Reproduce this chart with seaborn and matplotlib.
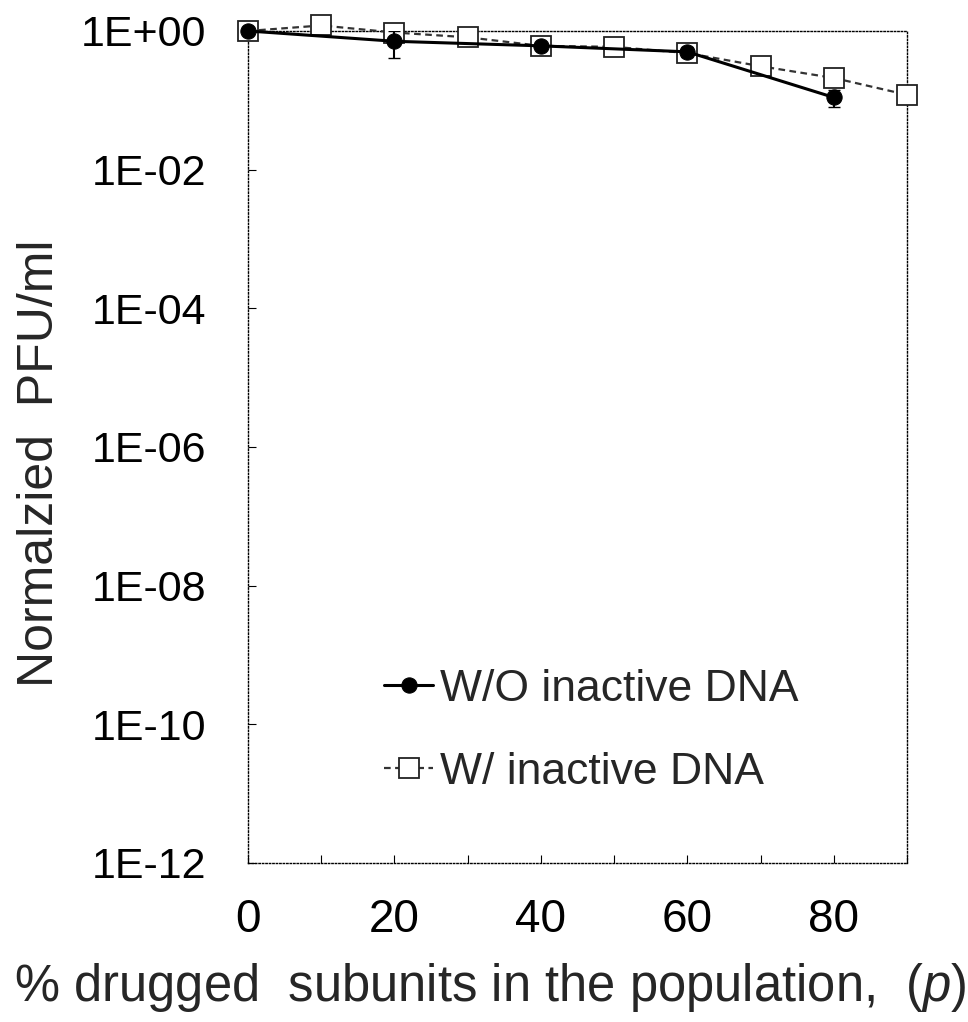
import numpy as np
import pandas as pd
import matplotlib
matplotlib.use("Agg")
import matplotlib.pyplot as plt
import seaborn as sns

# ---- data ----
x_wo = [0, 20, 40, 60, 80]
y_wo = [1.0, 0.71, 0.61, 0.50, 0.11]
err_wo = [0.05, 0.30, 0.05, 0.08, 0.03]

x_w = [0, 10, 20, 30, 40, 50, 60, 70, 80, 90]
y_w = [1.0, 1.2, 0.95, 0.81, 0.61, 0.59, 0.48, 0.31, 0.21, 0.12]
err_w = [0.03, 0.04, 0.08, 0.08, 0.05, 0.10, 0.05, 0.07, 0.04, 0.02]

series_labels = ["W/O inactive DNA", "W/ inactive DNA"]
y_ticks = [1e0, 1e-2, 1e-4, 1e-6, 1e-8, 1e-10, 1e-12]
y_tick_labels = ["1E+00", "1E-02", "1E-04", "1E-06", "1E-08", "1E-10", "1E-12"]
x_major = [0, 20, 40, 60, 80]
x_minor = [10, 30, 50, 70, 90]
x_label = r"% drugged  subunits in the population,  $\mathit{(p)}$"
y_label = "Normalzied  PFU/ml"

df_wo = pd.DataFrame({"x": x_wo, "y": y_wo})
df_w = pd.DataFrame({"x": x_w, "y": y_w})

sns.set_theme(style="white")
plt.rcParams["font.family"] = ["Liberation Sans", "DejaVu Sans"]
plt.rcParams["mathtext.fontset"] = "custom"
plt.rcParams["mathtext.it"] = "Liberation Sans:italic"
plt.rcParams["mathtext.rm"] = "Liberation Sans"
plt.rcParams["ytick.major.pad"] = 30
plt.rcParams["xtick.major.pad"] = 25
plt.rcParams["xtick.minor.pad"] = 25

fig = plt.figure(figsize=(9.68, 10.22), dpi=100)
ax = fig.add_axes([0.2562, 0.1556, 0.937 - 0.2562, 0.9697 - 0.1556])

# W/ inactive DNA (dashed, open squares)
ax.errorbar(x_w, y_w, yerr=err_w, fmt="none", ecolor="#222222", elinewidth=1.2,
            capsize=3, zorder=2)
sns.lineplot(data=df_w, x="x", y="y", ax=ax, color="#333333", linewidth=1.6,
             linestyle=(0, (3, 2)), marker="s", markersize=15,
             markerfacecolor="white", markeredgecolor="#222222",
             markeredgewidth=1.3, label=series_labels[1], zorder=3,
             errorbar=None, clip_on=False)

# W/O inactive DNA (solid, filled circles)
ax.errorbar(x_wo, y_wo, yerr=err_wo, fmt="none", ecolor="black", elinewidth=1.5,
            capsize=4, zorder=4)
sns.lineplot(data=df_wo, x="x", y="y", ax=ax, color="black", linewidth=2.2,
             marker="o", markersize=11, markerfacecolor="black",
             markeredgecolor="black", label=series_labels[0], zorder=5,
             errorbar=None, clip_on=False)

ax.set_yscale("log")
ax.set_ylim(1e-12, 1e0)
ax.set_xlim(0, 90)

ax.set_yticks(y_ticks)
ax.set_yticklabels(y_tick_labels)
ax.yaxis.set_minor_locator(matplotlib.ticker.NullLocator())
ax.set_xticks(x_major)
ax.set_xticks(x_minor, minor=True)
ax.set_xticklabels([str(v) for v in x_major])

ax.tick_params(axis="y", which="both", direction="in", length=6, width=0.8,
               pad=30, left=True, colors="black", labelsize=31)
ax.tick_params(axis="x", which="both", direction="in", length=6, width=0.8,
               pad=25, bottom=True, colors="black", labelsize=33)
for t in ax.yaxis.get_major_ticks():
    t.set_pad(30)
for t in ax.xaxis.get_major_ticks():
    t.set_pad(25)

for s in ax.spines.values():
    s.set_visible(True)
    s.set_color("black")
    s.set_linewidth(1.0)
    s.set_linestyle((0, (1, 1.5)))

ax.set_xlabel(x_label, fontsize=36.5)
ax.set_ylabel(y_label, fontsize=36)
ax.yaxis.set_label_coords(-0.28, 0.48)
ax.xaxis.set_label_coords(0.367, -0.118)

ax.grid(False)

handles, labels = ax.get_legend_handles_labels()
order = [labels.index(series_labels[0]), labels.index(series_labels[1])]
leg = ax.legend([handles[i] for i in order], [labels[i] for i in order],
                loc="upper left", bbox_to_anchor=(0.18, 0.255), frameon=False,
                fontsize=32, handlelength=1.1, handletextpad=0.15,
                labelspacing=0.95, borderaxespad=0)

fig.savefig("out.png", dpi=100, facecolor="white")
